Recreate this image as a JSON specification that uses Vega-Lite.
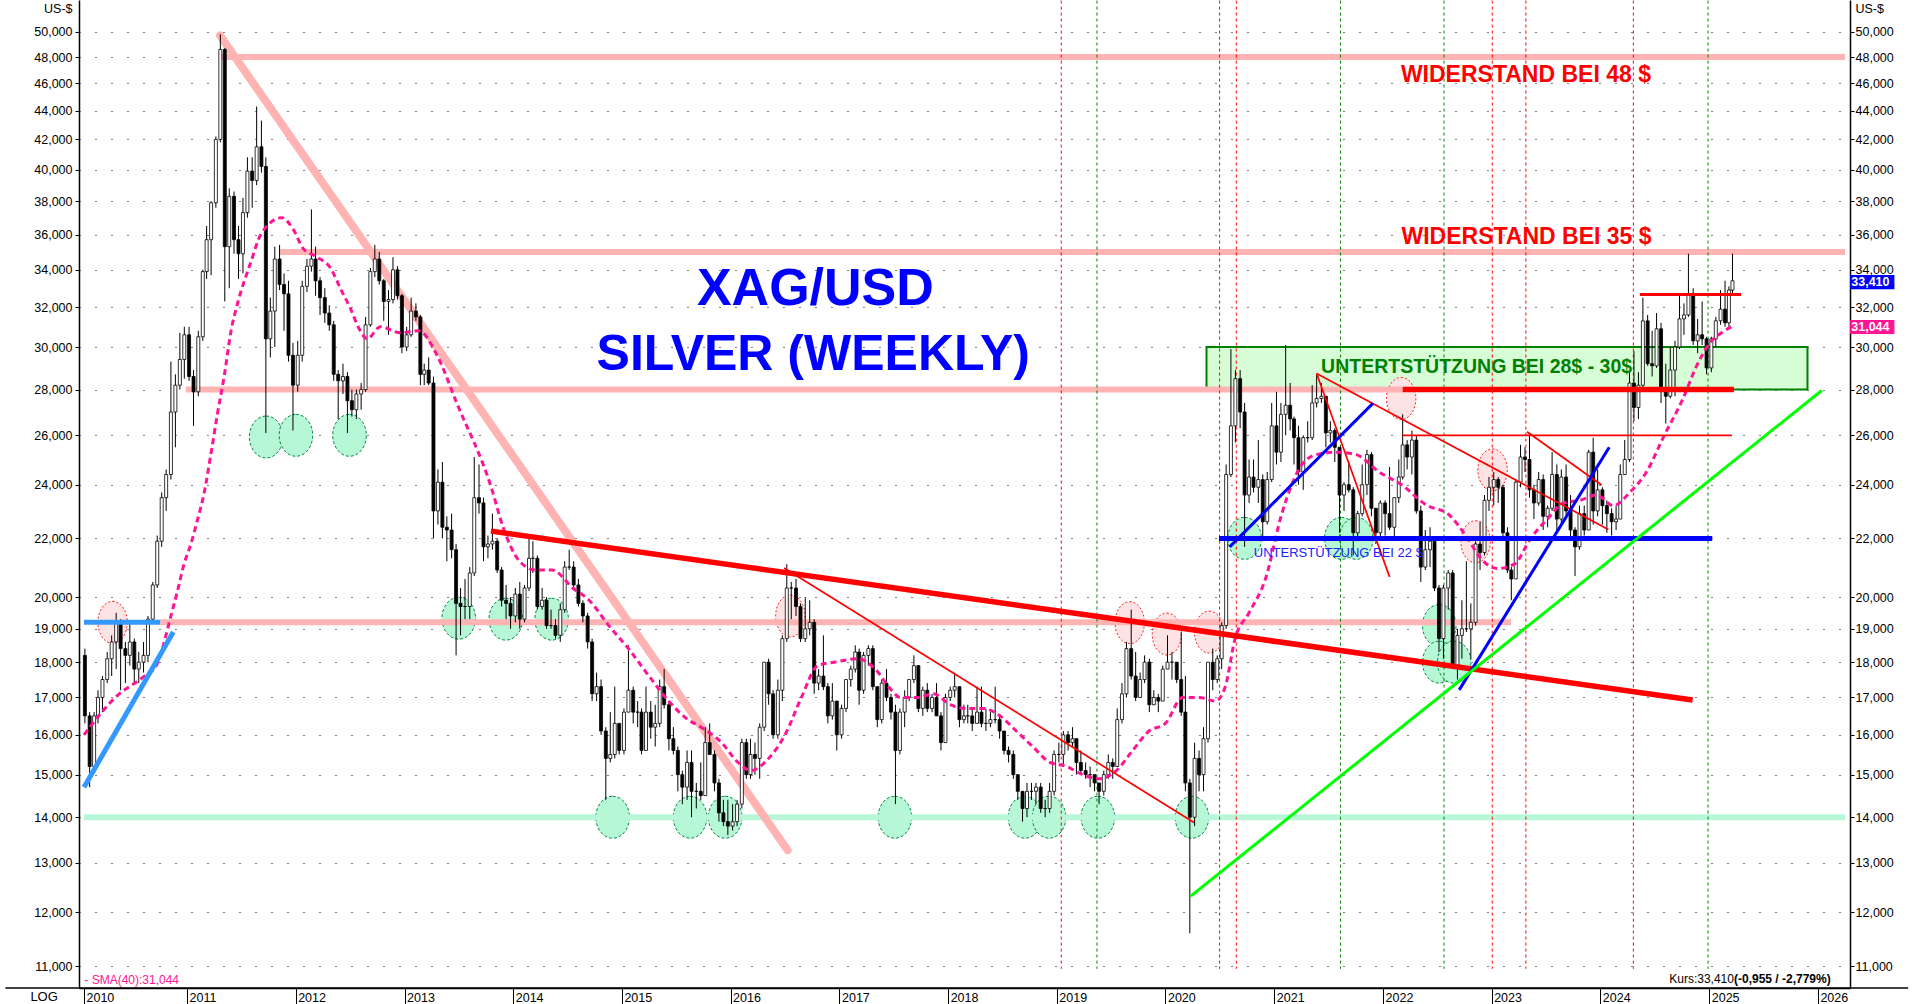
{
"$schema":"https://vega.github.io/schema/vega-lite/v6.json",
"width":1771,"height":988,
"autosize":{"type":"none"},
"padding":{"left":79,"top":0,"right":63,"bottom":16},
"background":"white",
"config":{"view":{"stroke":null},"font":"Liberation Sans"},
"datasets":{
"candles":[
{"t":"2010-01-23","o":18.2,"h":18.4,"l":16.3,"c":16.5},
{"t":"2010-02-08","o":16.5,"h":16.6,"l":14.7,"c":15.2},
{"t":"2010-02-23","o":15.2,"h":16.6,"l":15.1,"c":16.5},
{"t":"2010-03-08","o":16.5,"h":17.2,"l":16.3,"c":17.0},
{"t":"2010-03-23","o":17.0,"h":17.6,"l":16.6,"c":17.5},
{"t":"2010-04-08","o":17.5,"h":18.3,"l":17.4,"c":18.1},
{"t":"2010-04-23","o":18.1,"h":18.8,"l":17.6,"c":18.6},
{"t":"2010-05-08","o":18.6,"h":19.5,"l":17.8,"c":19.2},
{"t":"2010-05-23","o":19.2,"h":19.3,"l":17.2,"c":18.4},
{"t":"2010-06-08","o":18.4,"h":18.6,"l":17.4,"c":18.2},
{"t":"2010-06-23","o":18.2,"h":19.2,"l":17.9,"c":18.6},
{"t":"2010-07-08","o":18.6,"h":18.7,"l":17.4,"c":17.8},
{"t":"2010-07-23","o":17.8,"h":18.3,"l":17.4,"c":18.0},
{"t":"2010-08-08","o":18.0,"h":18.6,"l":17.7,"c":18.2},
{"t":"2010-08-23","o":18.2,"h":19.4,"l":18.0,"c":19.3},
{"t":"2010-09-08","o":19.3,"h":20.5,"l":19.2,"c":20.4},
{"t":"2010-09-23","o":20.4,"h":22.1,"l":20.3,"c":21.9},
{"t":"2010-10-08","o":21.9,"h":23.7,"l":21.7,"c":23.5},
{"t":"2010-10-23","o":23.5,"h":24.6,"l":23.0,"c":24.4},
{"t":"2010-11-08","o":24.4,"h":29.3,"l":24.2,"c":27.0},
{"t":"2010-11-23","o":27.0,"h":28.7,"l":25.5,"c":28.2},
{"t":"2010-12-08","o":28.2,"h":30.7,"l":28.0,"c":29.4},
{"t":"2010-12-23","o":29.4,"h":31.0,"l":28.5,"c":30.6},
{"t":"2011-01-08","o":30.6,"h":31.0,"l":28.4,"c":28.6},
{"t":"2011-01-23","o":28.6,"h":28.9,"l":26.4,"c":27.9},
{"t":"2011-02-08","o":27.9,"h":30.8,"l":27.7,"c":30.5},
{"t":"2011-02-23","o":30.5,"h":34.0,"l":30.3,"c":33.9},
{"t":"2011-03-08","o":33.9,"h":36.5,"l":33.5,"c":35.7},
{"t":"2011-03-23","o":35.7,"h":38.0,"l":33.7,"c":37.9},
{"t":"2011-04-08","o":37.9,"h":42.2,"l":37.6,"c":42.0},
{"t":"2011-04-23","o":42.0,"h":49.8,"l":41.8,"c":48.6},
{"t":"2011-05-08","o":48.6,"h":48.7,"l":32.3,"c":35.3},
{"t":"2011-05-23","o":35.3,"h":38.8,"l":33.0,"c":38.3},
{"t":"2011-06-08","o":38.3,"h":38.6,"l":34.9,"c":35.7},
{"t":"2011-06-23","o":35.7,"h":36.5,"l":33.5,"c":34.9},
{"t":"2011-07-08","o":34.9,"h":38.2,"l":33.8,"c":37.3},
{"t":"2011-07-23","o":37.3,"h":40.8,"l":37.0,"c":39.9},
{"t":"2011-08-08","o":39.9,"h":40.8,"l":37.6,"c":39.3},
{"t":"2011-08-23","o":39.3,"h":44.3,"l":39.0,"c":41.5},
{"t":"2011-09-08","o":41.5,"h":43.3,"l":39.8,"c":40.2},
{"t":"2011-09-23","o":40.2,"h":40.8,"l":26.1,"c":30.4},
{"t":"2011-10-08","o":30.4,"h":32.5,"l":29.5,"c":31.8},
{"t":"2011-10-23","o":31.8,"h":35.3,"l":30.0,"c":34.6},
{"t":"2011-11-08","o":34.6,"h":35.4,"l":32.9,"c":33.2},
{"t":"2011-11-23","o":33.2,"h":33.8,"l":30.8,"c":32.7},
{"t":"2011-12-08","o":32.7,"h":33.4,"l":29.3,"c":29.6},
{"t":"2011-12-23","o":29.6,"h":30.2,"l":26.2,"c":28.2},
{"t":"2012-01-08","o":28.2,"h":30.3,"l":27.9,"c":29.6},
{"t":"2012-01-23","o":29.6,"h":33.4,"l":29.3,"c":33.1},
{"t":"2012-02-08","o":33.1,"h":34.6,"l":32.8,"c":34.2},
{"t":"2012-02-23","o":34.2,"h":37.5,"l":33.9,"c":34.6},
{"t":"2012-03-08","o":34.6,"h":35.3,"l":32.6,"c":33.4},
{"t":"2012-03-23","o":33.4,"h":33.6,"l":31.6,"c":32.5},
{"t":"2012-04-08","o":32.5,"h":33.0,"l":31.2,"c":31.7},
{"t":"2012-04-23","o":31.7,"h":32.1,"l":30.8,"c":31.1},
{"t":"2012-05-08","o":31.1,"h":31.3,"l":28.4,"c":28.7},
{"t":"2012-05-23","o":28.7,"h":28.9,"l":26.7,"c":28.4},
{"t":"2012-06-08","o":28.4,"h":29.2,"l":27.8,"c":28.6},
{"t":"2012-06-23","o":28.6,"h":28.8,"l":26.1,"c":27.5},
{"t":"2012-07-08","o":27.5,"h":28.0,"l":26.8,"c":27.1},
{"t":"2012-07-23","o":27.1,"h":28.0,"l":26.7,"c":27.8},
{"t":"2012-08-08","o":27.8,"h":28.3,"l":27.1,"c":28.0},
{"t":"2012-08-23","o":28.0,"h":31.5,"l":27.9,"c":31.1},
{"t":"2012-09-08","o":31.1,"h":34.1,"l":31.0,"c":33.9},
{"t":"2012-09-23","o":33.9,"h":35.4,"l":33.6,"c":34.6},
{"t":"2012-10-08","o":34.6,"h":35.0,"l":33.2,"c":33.4},
{"t":"2012-10-23","o":33.4,"h":33.5,"l":31.3,"c":32.3},
{"t":"2012-11-08","o":32.3,"h":32.9,"l":30.6,"c":32.4},
{"t":"2012-11-23","o":32.4,"h":34.7,"l":32.2,"c":34.0},
{"t":"2012-12-08","o":34.0,"h":34.2,"l":32.4,"c":32.6},
{"t":"2012-12-23","o":32.6,"h":32.7,"l":29.7,"c":30.0},
{"t":"2013-01-08","o":30.0,"h":31.0,"l":29.8,"c":30.6},
{"t":"2013-01-23","o":30.6,"h":32.5,"l":30.5,"c":31.8},
{"t":"2013-02-08","o":31.8,"h":32.2,"l":31.3,"c":31.5},
{"t":"2013-02-23","o":31.5,"h":31.6,"l":28.2,"c":28.7},
{"t":"2013-03-08","o":28.7,"h":29.2,"l":28.2,"c":28.9},
{"t":"2013-03-23","o":28.9,"h":29.5,"l":28.2,"c":28.3},
{"t":"2013-04-08","o":28.3,"h":28.6,"l":22.0,"c":23.0},
{"t":"2013-04-23","o":23.0,"h":24.6,"l":22.5,"c":24.1},
{"t":"2013-05-08","o":24.1,"h":24.9,"l":22.0,"c":22.4},
{"t":"2013-05-23","o":22.4,"h":22.8,"l":21.2,"c":22.3},
{"t":"2013-06-08","o":22.3,"h":22.9,"l":21.3,"c":21.6},
{"t":"2013-06-23","o":21.6,"h":21.8,"l":18.2,"c":19.8},
{"t":"2013-07-08","o":19.8,"h":20.3,"l":18.8,"c":19.7},
{"t":"2013-07-23","o":19.7,"h":20.6,"l":19.3,"c":19.7},
{"t":"2013-08-08","o":19.7,"h":21.0,"l":19.3,"c":20.8},
{"t":"2013-08-23","o":20.8,"h":25.1,"l":20.7,"c":23.5},
{"t":"2013-09-08","o":23.5,"h":24.8,"l":22.9,"c":23.3},
{"t":"2013-09-23","o":23.3,"h":23.5,"l":21.2,"c":21.7},
{"t":"2013-10-08","o":21.7,"h":22.1,"l":21.3,"c":21.8},
{"t":"2013-10-23","o":21.8,"h":22.9,"l":21.6,"c":21.9},
{"t":"2013-11-08","o":21.9,"h":22.0,"l":20.8,"c":20.9},
{"t":"2013-11-23","o":20.9,"h":21.0,"l":19.7,"c":19.9},
{"t":"2013-12-08","o":19.9,"h":20.4,"l":19.3,"c":19.8},
{"t":"2013-12-23","o":19.8,"h":20.0,"l":19.0,"c":19.4},
{"t":"2014-01-08","o":19.4,"h":20.3,"l":19.2,"c":20.1},
{"t":"2014-01-23","o":20.1,"h":20.5,"l":19.0,"c":19.3},
{"t":"2014-02-08","o":19.3,"h":20.4,"l":19.2,"c":20.3},
{"t":"2014-02-23","o":20.3,"h":22.0,"l":20.2,"c":21.3},
{"t":"2014-03-08","o":21.3,"h":21.9,"l":20.8,"c":21.3},
{"t":"2014-03-23","o":21.3,"h":21.4,"l":19.6,"c":19.7},
{"t":"2014-04-08","o":19.7,"h":20.3,"l":19.6,"c":19.9},
{"t":"2014-04-23","o":19.9,"h":20.0,"l":19.0,"c":19.1},
{"t":"2014-05-08","o":19.1,"h":19.6,"l":19.0,"c":19.1},
{"t":"2014-05-23","o":19.1,"h":19.3,"l":18.7,"c":18.8},
{"t":"2014-06-08","o":18.8,"h":19.8,"l":18.6,"c":19.6},
{"t":"2014-06-23","o":19.6,"h":21.2,"l":19.5,"c":21.0},
{"t":"2014-07-08","o":21.0,"h":21.6,"l":20.9,"c":21.0},
{"t":"2014-07-23","o":21.0,"h":21.2,"l":20.3,"c":20.4},
{"t":"2014-08-08","o":20.4,"h":20.6,"l":19.7,"c":19.8},
{"t":"2014-08-23","o":19.8,"h":19.9,"l":19.2,"c":19.4},
{"t":"2014-09-08","o":19.4,"h":19.5,"l":18.4,"c":18.6},
{"t":"2014-09-23","o":18.6,"h":18.7,"l":16.9,"c":17.1},
{"t":"2014-10-08","o":17.1,"h":17.7,"l":16.9,"c":17.3},
{"t":"2014-10-23","o":17.3,"h":17.5,"l":16.0,"c":16.1},
{"t":"2014-11-08","o":16.1,"h":16.2,"l":14.4,"c":15.4},
{"t":"2014-11-23","o":15.4,"h":16.6,"l":15.3,"c":15.5},
{"t":"2014-12-08","o":15.5,"h":17.3,"l":15.4,"c":16.3},
{"t":"2014-12-23","o":16.3,"h":16.3,"l":15.5,"c":15.6},
{"t":"2015-01-08","o":15.6,"h":16.7,"l":15.5,"c":16.6},
{"t":"2015-01-23","o":16.6,"h":18.5,"l":16.6,"c":17.2},
{"t":"2015-02-08","o":17.2,"h":17.3,"l":16.3,"c":16.6},
{"t":"2015-02-23","o":16.6,"h":16.9,"l":16.2,"c":16.6},
{"t":"2015-03-08","o":16.6,"h":16.7,"l":15.5,"c":15.6},
{"t":"2015-03-23","o":15.6,"h":17.3,"l":15.6,"c":16.6},
{"t":"2015-04-08","o":16.6,"h":16.9,"l":15.9,"c":16.2},
{"t":"2015-04-23","o":16.2,"h":16.8,"l":15.7,"c":16.3},
{"t":"2015-05-08","o":16.3,"h":17.5,"l":16.2,"c":17.3},
{"t":"2015-05-23","o":17.3,"h":17.8,"l":16.7,"c":16.8},
{"t":"2015-06-08","o":16.8,"h":16.9,"l":15.6,"c":15.9},
{"t":"2015-06-23","o":15.9,"h":16.2,"l":15.5,"c":15.6},
{"t":"2015-07-08","o":15.6,"h":15.7,"l":14.6,"c":15.0},
{"t":"2015-07-23","o":15.0,"h":15.1,"l":14.3,"c":14.7},
{"t":"2015-08-08","o":14.7,"h":15.6,"l":14.4,"c":15.3},
{"t":"2015-08-23","o":15.3,"h":15.6,"l":14.0,"c":14.6},
{"t":"2015-09-08","o":14.6,"h":14.8,"l":14.2,"c":14.6},
{"t":"2015-09-23","o":14.6,"h":15.3,"l":14.4,"c":14.5},
{"t":"2015-10-08","o":14.5,"h":16.2,"l":14.5,"c":15.8},
{"t":"2015-10-23","o":15.8,"h":16.3,"l":15.5,"c":15.5},
{"t":"2015-11-08","o":15.5,"h":15.6,"l":14.6,"c":14.8},
{"t":"2015-11-23","o":14.8,"h":14.9,"l":13.9,"c":14.1},
{"t":"2015-12-08","o":14.1,"h":14.4,"l":13.8,"c":13.9},
{"t":"2015-12-23","o":13.9,"h":14.4,"l":13.6,"c":13.8},
{"t":"2016-01-08","o":13.8,"h":14.3,"l":13.7,"c":13.9},
{"t":"2016-01-23","o":13.9,"h":14.4,"l":13.8,"c":14.3},
{"t":"2016-02-08","o":14.3,"h":15.9,"l":14.2,"c":15.8},
{"t":"2016-02-23","o":15.8,"h":15.9,"l":14.9,"c":15.0},
{"t":"2016-03-08","o":15.0,"h":15.9,"l":14.9,"c":15.5},
{"t":"2016-03-23","o":15.5,"h":15.8,"l":15.0,"c":15.4},
{"t":"2016-04-08","o":15.4,"h":16.3,"l":14.9,"c":16.2},
{"t":"2016-04-23","o":16.2,"h":18.0,"l":16.1,"c":18.0},
{"t":"2016-05-08","o":18.0,"h":18.1,"l":16.8,"c":17.1},
{"t":"2016-05-23","o":17.1,"h":17.2,"l":15.9,"c":16.0},
{"t":"2016-06-08","o":16.0,"h":17.5,"l":15.9,"c":17.2},
{"t":"2016-06-23","o":17.2,"h":18.8,"l":16.9,"c":18.7},
{"t":"2016-07-08","o":18.7,"h":21.1,"l":18.6,"c":20.3},
{"t":"2016-07-23","o":20.3,"h":20.5,"l":19.3,"c":20.3},
{"t":"2016-08-08","o":20.3,"h":20.6,"l":19.4,"c":19.7},
{"t":"2016-08-23","o":19.7,"h":19.8,"l":18.6,"c":18.7},
{"t":"2016-09-08","o":18.7,"h":20.0,"l":18.6,"c":19.0},
{"t":"2016-09-23","o":19.0,"h":19.9,"l":18.8,"c":19.2},
{"t":"2016-10-08","o":19.2,"h":19.3,"l":17.1,"c":17.4},
{"t":"2016-10-23","o":17.4,"h":17.8,"l":17.2,"c":17.6},
{"t":"2016-11-08","o":17.6,"h":18.8,"l":17.2,"c":17.3},
{"t":"2016-11-23","o":17.3,"h":17.4,"l":16.3,"c":16.5},
{"t":"2016-12-08","o":16.5,"h":17.4,"l":16.4,"c":16.9},
{"t":"2016-12-23","o":16.9,"h":16.9,"l":15.6,"c":16.0},
{"t":"2017-01-08","o":16.0,"h":16.8,"l":15.9,"c":16.7},
{"t":"2017-01-23","o":16.7,"h":17.5,"l":16.6,"c":17.5},
{"t":"2017-02-08","o":17.5,"h":17.9,"l":17.3,"c":17.8},
{"t":"2017-02-23","o":17.8,"h":18.5,"l":17.7,"c":18.3},
{"t":"2017-03-08","o":18.3,"h":18.4,"l":16.8,"c":17.2},
{"t":"2017-03-23","o":17.2,"h":18.3,"l":17.1,"c":18.2},
{"t":"2017-04-08","o":18.2,"h":18.5,"l":17.9,"c":18.4},
{"t":"2017-04-23","o":18.4,"h":18.5,"l":17.2,"c":17.3},
{"t":"2017-05-08","o":17.3,"h":17.3,"l":16.2,"c":16.4},
{"t":"2017-05-23","o":16.4,"h":17.5,"l":16.3,"c":17.4},
{"t":"2017-06-08","o":17.4,"h":17.8,"l":16.9,"c":17.0},
{"t":"2017-06-23","o":17.0,"h":17.1,"l":16.4,"c":16.6},
{"t":"2017-07-08","o":16.6,"h":16.8,"l":14.3,"c":15.6},
{"t":"2017-07-23","o":15.6,"h":16.7,"l":15.5,"c":16.6},
{"t":"2017-08-08","o":16.6,"h":17.2,"l":16.2,"c":17.0},
{"t":"2017-08-23","o":17.0,"h":17.5,"l":16.9,"c":17.5},
{"t":"2017-09-08","o":17.5,"h":18.2,"l":17.4,"c":17.9},
{"t":"2017-09-23","o":17.9,"h":17.9,"l":16.6,"c":16.7},
{"t":"2017-10-08","o":16.7,"h":17.3,"l":16.5,"c":17.2},
{"t":"2017-10-23","o":17.2,"h":17.4,"l":16.6,"c":16.7},
{"t":"2017-11-08","o":16.7,"h":17.1,"l":16.6,"c":17.0},
{"t":"2017-11-23","o":17.0,"h":17.4,"l":16.5,"c":16.5},
{"t":"2017-12-08","o":16.5,"h":16.6,"l":15.6,"c":15.8},
{"t":"2017-12-23","o":15.8,"h":17.1,"l":15.8,"c":17.0},
{"t":"2018-01-08","o":17.0,"h":17.3,"l":16.9,"c":17.2},
{"t":"2018-01-23","o":17.2,"h":17.7,"l":17.0,"c":17.3},
{"t":"2018-02-08","o":17.3,"h":17.3,"l":16.2,"c":16.4},
{"t":"2018-02-23","o":16.4,"h":16.8,"l":16.3,"c":16.5},
{"t":"2018-03-08","o":16.5,"h":16.8,"l":16.3,"c":16.5},
{"t":"2018-03-23","o":16.5,"h":16.7,"l":16.1,"c":16.3},
{"t":"2018-04-08","o":16.3,"h":17.3,"l":16.3,"c":16.6},
{"t":"2018-04-23","o":16.6,"h":17.3,"l":16.2,"c":16.3},
{"t":"2018-05-08","o":16.3,"h":16.7,"l":16.1,"c":16.3},
{"t":"2018-05-23","o":16.3,"h":16.6,"l":16.2,"c":16.4},
{"t":"2018-06-08","o":16.4,"h":17.3,"l":16.3,"c":16.4},
{"t":"2018-06-23","o":16.4,"h":16.5,"l":15.9,"c":16.1},
{"t":"2018-07-08","o":16.1,"h":16.1,"l":15.5,"c":15.6},
{"t":"2018-07-23","o":15.6,"h":15.7,"l":15.3,"c":15.5},
{"t":"2018-08-08","o":15.5,"h":15.6,"l":14.9,"c":15.0},
{"t":"2018-08-23","o":15.0,"h":15.0,"l":14.4,"c":14.6},
{"t":"2018-09-08","o":14.6,"h":14.6,"l":13.9,"c":14.2},
{"t":"2018-09-23","o":14.2,"h":14.8,"l":14.0,"c":14.6},
{"t":"2018-10-08","o":14.6,"h":14.8,"l":14.4,"c":14.6},
{"t":"2018-10-23","o":14.6,"h":14.8,"l":14.3,"c":14.7},
{"t":"2018-11-08","o":14.7,"h":14.8,"l":14.1,"c":14.2},
{"t":"2018-11-23","o":14.2,"h":14.4,"l":14.0,"c":14.2},
{"t":"2018-12-08","o":14.2,"h":14.8,"l":14.1,"c":14.6},
{"t":"2018-12-23","o":14.6,"h":15.6,"l":14.5,"c":15.5},
{"t":"2019-01-08","o":15.5,"h":15.8,"l":15.3,"c":15.5},
{"t":"2019-01-23","o":15.5,"h":16.1,"l":15.2,"c":16.0},
{"t":"2019-02-08","o":16.0,"h":16.1,"l":15.6,"c":15.8},
{"t":"2019-02-23","o":15.8,"h":16.2,"l":15.7,"c":15.9},
{"t":"2019-03-08","o":15.9,"h":15.9,"l":15.0,"c":15.3},
{"t":"2019-03-23","o":15.3,"h":15.6,"l":15.0,"c":15.1},
{"t":"2019-04-08","o":15.1,"h":15.3,"l":14.9,"c":15.0},
{"t":"2019-04-23","o":15.0,"h":15.2,"l":14.7,"c":15.0},
{"t":"2019-05-08","o":15.0,"h":15.0,"l":14.6,"c":14.8},
{"t":"2019-05-23","o":14.8,"h":14.8,"l":14.3,"c":14.6},
{"t":"2019-06-08","o":14.6,"h":15.1,"l":14.5,"c":15.0},
{"t":"2019-06-23","o":15.0,"h":15.5,"l":14.9,"c":15.3},
{"t":"2019-07-08","o":15.3,"h":15.4,"l":14.9,"c":15.2},
{"t":"2019-07-23","o":15.2,"h":16.7,"l":15.2,"c":16.4},
{"t":"2019-08-08","o":16.4,"h":17.4,"l":16.3,"c":17.1},
{"t":"2019-08-23","o":17.1,"h":18.6,"l":17.0,"c":18.4},
{"t":"2019-09-08","o":18.4,"h":19.6,"l":17.5,"c":17.6},
{"t":"2019-09-23","o":17.6,"h":18.3,"l":16.9,"c":17.0},
{"t":"2019-10-08","o":17.0,"h":17.7,"l":17.0,"c":17.5},
{"t":"2019-10-23","o":17.5,"h":18.2,"l":17.4,"c":18.0},
{"t":"2019-11-08","o":18.0,"h":18.1,"l":16.6,"c":16.8},
{"t":"2019-11-23","o":16.8,"h":17.2,"l":16.8,"c":17.0},
{"t":"2019-12-08","o":17.0,"h":17.1,"l":16.6,"c":16.9},
{"t":"2019-12-23","o":16.9,"h":17.9,"l":16.9,"c":17.8},
{"t":"2020-01-08","o":17.8,"h":18.8,"l":17.8,"c":18.0},
{"t":"2020-01-23","o":18.0,"h":18.3,"l":17.5,"c":18.0},
{"t":"2020-02-08","o":18.0,"h":18.0,"l":17.4,"c":17.5},
{"t":"2020-02-23","o":17.5,"h":18.9,"l":16.5,"c":16.6},
{"t":"2020-03-08","o":16.6,"h":17.6,"l":14.6,"c":14.8},
{"t":"2020-03-23","o":14.8,"h":14.9,"l":11.6,"c":14.0},
{"t":"2020-04-08","o":14.0,"h":15.8,"l":13.8,"c":15.4},
{"t":"2020-04-23","o":15.4,"h":15.6,"l":14.6,"c":15.0},
{"t":"2020-05-08","o":15.0,"h":16.2,"l":14.6,"c":15.9},
{"t":"2020-05-23","o":15.9,"h":18.0,"l":15.8,"c":18.0},
{"t":"2020-06-08","o":18.0,"h":18.4,"l":17.2,"c":17.5},
{"t":"2020-06-23","o":17.5,"h":18.2,"l":17.4,"c":18.1},
{"t":"2020-07-08","o":18.1,"h":19.2,"l":17.8,"c":19.1},
{"t":"2020-07-23","o":19.1,"h":24.8,"l":19.0,"c":24.4},
{"t":"2020-08-08","o":24.4,"h":29.9,"l":24.3,"c":26.4},
{"t":"2020-08-23","o":26.4,"h":28.9,"l":25.7,"c":28.5},
{"t":"2020-09-08","o":28.5,"h":28.9,"l":26.3,"c":27.0},
{"t":"2020-09-23","o":27.0,"h":27.4,"l":21.7,"c":23.6},
{"t":"2020-10-08","o":23.6,"h":25.0,"l":23.3,"c":24.3},
{"t":"2020-10-23","o":24.3,"h":25.0,"l":23.7,"c":23.9},
{"t":"2020-11-08","o":23.9,"h":25.8,"l":23.3,"c":24.2},
{"t":"2020-11-23","o":24.2,"h":24.4,"l":21.9,"c":22.6},
{"t":"2020-12-08","o":22.6,"h":24.5,"l":22.5,"c":24.2},
{"t":"2020-12-23","o":24.2,"h":27.4,"l":24.1,"c":26.4},
{"t":"2021-01-08","o":26.4,"h":27.9,"l":24.8,"c":25.3},
{"t":"2021-01-23","o":25.3,"h":27.4,"l":24.9,"c":26.9},
{"t":"2021-02-08","o":26.9,"h":30.1,"l":26.0,"c":27.3},
{"t":"2021-02-23","o":27.3,"h":28.3,"l":26.2,"c":26.7},
{"t":"2021-03-08","o":26.7,"h":26.8,"l":24.8,"c":25.9},
{"t":"2021-03-23","o":25.9,"h":26.4,"l":24.0,"c":24.5},
{"t":"2021-04-08","o":24.5,"h":26.0,"l":23.8,"c":25.9},
{"t":"2021-04-23","o":25.9,"h":26.6,"l":25.7,"c":25.9},
{"t":"2021-05-08","o":25.9,"h":28.2,"l":25.8,"c":27.4},
{"t":"2021-05-23","o":27.4,"h":28.7,"l":27.2,"c":27.6},
{"t":"2021-06-08","o":27.6,"h":28.3,"l":27.4,"c":27.7},
{"t":"2021-06-23","o":27.7,"h":27.7,"l":25.5,"c":26.1},
{"t":"2021-07-08","o":26.1,"h":26.6,"l":25.7,"c":26.2},
{"t":"2021-07-23","o":26.2,"h":26.3,"l":24.9,"c":25.5},
{"t":"2021-08-08","o":25.5,"h":25.5,"l":22.2,"c":23.6},
{"t":"2021-08-23","o":23.6,"h":24.1,"l":23.0,"c":24.0},
{"t":"2021-09-08","o":24.0,"h":24.9,"l":23.7,"c":23.8},
{"t":"2021-09-23","o":23.8,"h":23.9,"l":21.4,"c":22.2},
{"t":"2021-10-08","o":22.2,"h":23.0,"l":21.9,"c":22.9},
{"t":"2021-10-23","o":22.9,"h":24.8,"l":22.8,"c":24.0},
{"t":"2021-11-08","o":24.0,"h":25.4,"l":23.6,"c":25.2},
{"t":"2021-11-23","o":25.2,"h":25.3,"l":22.8,"c":23.1},
{"t":"2021-12-08","o":23.1,"h":23.1,"l":21.8,"c":22.2},
{"t":"2021-12-23","o":22.2,"h":23.4,"l":22.0,"c":23.3},
{"t":"2022-01-08","o":23.3,"h":23.4,"l":22.1,"c":22.9},
{"t":"2022-01-23","o":22.9,"h":24.7,"l":22.3,"c":22.4},
{"t":"2022-02-08","o":22.4,"h":23.5,"l":22.0,"c":23.5},
{"t":"2022-02-23","o":23.5,"h":25.0,"l":23.3,"c":24.3},
{"t":"2022-03-08","o":24.3,"h":26.9,"l":24.2,"c":25.6},
{"t":"2022-03-23","o":25.6,"h":25.8,"l":24.6,"c":25.1},
{"t":"2022-04-08","o":25.1,"h":26.2,"l":24.4,"c":25.8},
{"t":"2022-04-23","o":25.8,"h":26.0,"l":22.9,"c":23.0},
{"t":"2022-05-08","o":23.0,"h":23.2,"l":20.5,"c":21.0},
{"t":"2022-05-23","o":21.0,"h":22.3,"l":20.9,"c":21.6},
{"t":"2022-06-08","o":21.6,"h":22.4,"l":21.0,"c":21.9},
{"t":"2022-06-23","o":21.9,"h":22.0,"l":20.2,"c":20.3},
{"t":"2022-07-08","o":20.3,"h":20.4,"l":18.3,"c":18.7},
{"t":"2022-07-23","o":18.7,"h":20.4,"l":18.1,"c":20.3},
{"t":"2022-08-08","o":20.3,"h":20.9,"l":19.6,"c":20.8},
{"t":"2022-08-23","o":20.8,"h":20.9,"l":17.8,"c":17.9},
{"t":"2022-09-08","o":17.9,"h":19.0,"l":17.5,"c":18.8},
{"t":"2022-09-23","o":18.8,"h":19.9,"l":18.1,"c":19.0},
{"t":"2022-10-08","o":19.0,"h":21.2,"l":18.9,"c":19.0},
{"t":"2022-10-23","o":19.0,"h":19.8,"l":18.1,"c":19.2},
{"t":"2022-11-08","o":19.2,"h":21.9,"l":19.1,"c":21.8},
{"t":"2022-11-23","o":21.8,"h":22.6,"l":20.9,"c":21.5},
{"t":"2022-12-08","o":21.5,"h":23.6,"l":21.4,"c":23.4},
{"t":"2022-12-23","o":23.4,"h":24.3,"l":23.0,"c":23.9},
{"t":"2023-01-08","o":23.9,"h":24.5,"l":23.2,"c":24.2},
{"t":"2023-01-23","o":24.2,"h":24.3,"l":23.3,"c":23.9},
{"t":"2023-02-08","o":23.9,"h":24.0,"l":21.9,"c":22.2},
{"t":"2023-02-23","o":22.2,"h":22.4,"l":20.8,"c":20.9},
{"t":"2023-03-08","o":20.9,"h":21.0,"l":19.9,"c":20.6},
{"t":"2023-03-23","o":20.6,"h":24.2,"l":20.6,"c":24.1},
{"t":"2023-04-08","o":24.1,"h":25.6,"l":23.9,"c":25.1},
{"t":"2023-04-23","o":25.1,"h":25.5,"l":24.5,"c":25.0},
{"t":"2023-05-08","o":25.0,"h":26.1,"l":23.5,"c":23.8},
{"t":"2023-05-23","o":23.8,"h":24.0,"l":22.7,"c":23.3},
{"t":"2023-06-08","o":23.3,"h":24.5,"l":23.2,"c":24.2},
{"t":"2023-06-23","o":24.2,"h":24.4,"l":22.3,"c":22.8},
{"t":"2023-07-08","o":22.8,"h":23.2,"l":22.4,"c":23.1},
{"t":"2023-07-23","o":23.1,"h":25.3,"l":23.0,"c":24.4},
{"t":"2023-08-08","o":24.4,"h":24.8,"l":22.2,"c":22.7},
{"t":"2023-08-23","o":22.7,"h":24.6,"l":22.5,"c":24.3},
{"t":"2023-09-08","o":24.3,"h":24.8,"l":22.8,"c":23.0},
{"t":"2023-09-23","o":23.0,"h":23.6,"l":22.0,"c":22.3},
{"t":"2023-10-08","o":22.3,"h":22.4,"l":20.7,"c":21.7},
{"t":"2023-10-23","o":21.7,"h":23.2,"l":21.6,"c":22.9},
{"t":"2023-11-08","o":22.9,"h":23.2,"l":22.1,"c":22.3},
{"t":"2023-11-23","o":22.3,"h":25.4,"l":22.3,"c":25.3},
{"t":"2023-12-08","o":25.3,"h":25.9,"l":22.5,"c":23.0},
{"t":"2023-12-23","o":23.0,"h":24.6,"l":22.8,"c":23.8},
{"t":"2024-01-08","o":23.8,"h":23.9,"l":22.5,"c":23.2},
{"t":"2024-01-23","o":23.2,"h":23.4,"l":22.2,"c":22.9},
{"t":"2024-02-08","o":22.9,"h":23.1,"l":22.1,"c":22.6},
{"t":"2024-02-23","o":22.6,"h":23.2,"l":22.3,"c":22.7},
{"t":"2024-03-08","o":22.7,"h":24.8,"l":22.7,"c":24.4},
{"t":"2024-03-23","o":24.4,"h":25.8,"l":24.4,"c":25.0},
{"t":"2024-04-08","o":25.0,"h":28.8,"l":24.9,"c":28.3},
{"t":"2024-04-23","o":28.3,"h":29.8,"l":26.6,"c":27.2},
{"t":"2024-05-08","o":27.2,"h":28.8,"l":26.7,"c":28.2},
{"t":"2024-05-23","o":28.2,"h":32.5,"l":28.1,"c":31.3},
{"t":"2024-06-08","o":31.3,"h":31.6,"l":29.1,"c":29.2},
{"t":"2024-06-23","o":29.2,"h":30.8,"l":28.6,"c":29.1},
{"t":"2024-07-08","o":29.1,"h":31.7,"l":29.0,"c":30.9},
{"t":"2024-07-23","o":30.9,"h":31.2,"l":27.4,"c":28.0},
{"t":"2024-08-08","o":28.0,"h":29.2,"l":26.5,"c":27.7},
{"t":"2024-08-23","o":27.7,"h":30.0,"l":27.6,"c":28.9},
{"t":"2024-09-08","o":28.9,"h":30.3,"l":27.7,"c":30.0},
{"t":"2024-09-23","o":30.0,"h":32.7,"l":29.9,"c":31.4},
{"t":"2024-10-08","o":31.4,"h":32.2,"l":30.6,"c":31.6},
{"t":"2024-10-23","o":31.6,"h":34.9,"l":31.5,"c":32.7},
{"t":"2024-11-08","o":32.7,"h":33.0,"l":30.1,"c":30.3},
{"t":"2024-11-23","o":30.3,"h":31.4,"l":29.7,"c":30.6},
{"t":"2024-12-08","o":30.6,"h":32.3,"l":30.1,"c":30.4},
{"t":"2024-12-23","o":30.4,"h":30.5,"l":28.7,"c":29.0},
{"t":"2025-01-08","o":29.0,"h":30.5,"l":28.8,"c":30.4},
{"t":"2025-01-23","o":30.4,"h":31.5,"l":30.0,"c":31.3},
{"t":"2025-02-08","o":31.3,"h":32.9,"l":31.1,"c":31.9},
{"t":"2025-02-23","o":31.9,"h":33.4,"l":31.0,"c":31.2},
{"t":"2025-03-08","o":31.2,"h":33.1,"l":31.0,"c":32.9},
{"t":"2025-03-20","o":32.9,"h":34.9,"l":32.7,"c":33.4}
],
"sma":[
{"t":"2010-01-20","v":16.0},{"t":"2010-05-05","v":17.0},{"t":"2010-08-11","v":17.6},{"t":"2010-09-20","v":17.9},
{"t":"2010-11-08","v":19.4},{"t":"2010-11-30","v":20.2},{"t":"2010-12-22","v":21.1},{"t":"2011-01-14","v":21.8},
{"t":"2011-02-06","v":22.7},{"t":"2011-02-28","v":23.7},{"t":"2011-03-22","v":25.2},{"t":"2011-04-13","v":26.9},
{"t":"2011-05-07","v":28.7},{"t":"2011-05-29","v":30.8},{"t":"2011-06-20","v":32.2},{"t":"2011-08-03","v":34.4},
{"t":"2011-09-06","v":36.0},{"t":"2011-11-15","v":37.0},{"t":"2011-12-24","v":36.3},{"t":"2012-01-26","v":35.2},
{"t":"2012-03-14","v":34.7},{"t":"2012-04-27","v":34.1},{"t":"2012-05-30","v":33.0},{"t":"2012-07-01","v":32.0},
{"t":"2012-08-05","v":30.8},{"t":"2012-08-28","v":30.4},{"t":"2012-10-12","v":31.0},{"t":"2012-12-18","v":30.7},
{"t":"2013-02-17","v":30.8},{"t":"2013-04-20","v":29.6},{"t":"2013-06-25","v":27.4},{"t":"2013-10-19","v":23.9},
{"t":"2013-11-28","v":22.4},{"t":"2014-01-22","v":21.2},{"t":"2014-03-18","v":20.9},{"t":"2014-05-12","v":20.9},
{"t":"2014-07-20","v":20.3},{"t":"2014-09-13","v":19.9},{"t":"2014-11-18","v":19.1},{"t":"2015-01-23","v":18.4},
{"t":"2015-04-02","v":17.6},{"t":"2015-06-07","v":16.9},{"t":"2015-08-11","v":16.4},{"t":"2015-09-24","v":16.2},
{"t":"2015-12-02","v":15.8},{"t":"2016-01-26","v":15.3},{"t":"2016-03-10","v":15.1},{"t":"2016-05-08","v":15.4},
{"t":"2016-07-02","v":16.0},{"t":"2016-08-26","v":17.0},{"t":"2016-10-20","v":17.9},{"t":"2016-12-14","v":18.0},
{"t":"2017-03-05","v":18.1},{"t":"2017-05-01","v":17.8},{"t":"2017-06-25","v":17.2},{"t":"2017-07-24","v":17.0},
{"t":"2017-09-20","v":17.0},{"t":"2017-11-13","v":17.1},{"t":"2018-01-08","v":16.8},{"t":"2018-03-03","v":16.7},
{"t":"2018-04-30","v":16.7},{"t":"2018-06-24","v":16.5},{"t":"2018-08-18","v":16.1},{"t":"2018-10-12","v":15.7},
{"t":"2018-12-09","v":15.3},{"t":"2019-02-03","v":15.2},{"t":"2019-03-29","v":15.0},{"t":"2019-05-23","v":14.9},
{"t":"2019-07-20","v":15.1},{"t":"2019-09-13","v":15.6},{"t":"2019-11-07","v":16.1},{"t":"2020-01-01","v":16.3},
{"t":"2020-02-28","v":17.0},{"t":"2020-04-23","v":17.0},{"t":"2020-06-17","v":16.9},{"t":"2020-07-20","v":17.3},
{"t":"2020-08-22","v":18.7},{"t":"2020-10-08","v":19.5},{"t":"2020-12-02","v":20.6},{"t":"2021-01-26","v":22.9},
{"t":"2021-04-04","v":24.8},{"t":"2021-05-23","v":25.2},{"t":"2021-07-27","v":25.3},{"t":"2021-10-03","v":25.2},
{"t":"2021-12-19","v":24.5},{"t":"2022-03-04","v":24.0},{"t":"2022-05-30","v":23.2},{"t":"2022-08-06","v":22.9},
{"t":"2022-10-12","v":22.0},{"t":"2022-11-25","v":21.3},{"t":"2023-01-20","v":20.95},{"t":"2023-03-18","v":21.1},
{"t":"2023-05-12","v":22.0},{"t":"2023-07-07","v":22.7},{"t":"2023-08-31","v":23.3},{"t":"2023-10-25","v":23.4},
{"t":"2023-12-20","v":23.6},{"t":"2024-02-14","v":23.2},{"t":"2024-04-09","v":23.7},{"t":"2024-06-04","v":24.5},
{"t":"2024-08-03","v":26.0},{"t":"2024-10-05","v":27.6},{"t":"2024-11-18","v":29.05},{"t":"2025-01-03","v":30.2},
{"t":"2025-02-16","v":30.75},{"t":"2025-03-21","v":31.04}
]
},
"encoding":{
"x":{"field":"t","type":"temporal","scale":{"domain":[1263945600000,1775088000000]},
 "axis":{"orient":"bottom","title":null,"values":[1263945600000,1293840000000,1325376000000,1356998400000,1388534400000,1420070400000,1451606400000,1483228800000,1514764800000,1546300800000,1577836800000,1609459200000,1640995200000,1672531200000,1704067200000,1735689600000,1767225600000],
  "labelExpr":"utcFormat(datum.value, '%Y')","grid":false,"ticks":true,"tickSize":16,"tickColor":"#000000","tickWidth":1,"labelAlign":"left","labelOffset":2,"labelPadding":-13,"labelBaseline":"top","labelFontSize":12.5,"labelColor":"#000000","labelFont":"Liberation Sans","domain":true,"domainColor":"#000000","domainWidth":1.5,"labelOverlap":false,"labelBound":false,"labelFlush":false,"zindex":1}},
"y":{"field":"v","type":"quantitative","scale":{"type":"log","domain":[10.615,52.65],"nice":false},"axis":null}
},
"resolve":{"axis":{"y":"independent"}},
"layer":[
{"data":{"values":[{"t":"2020-05-18","t2":"2025-11-27","v":28,"v2":30}]},
 "mark":{"type":"rect","fill":"#d6fdd6","stroke":"#008000","strokeWidth":2},
 "encoding":{"x2":{"field":"t2"},"y2":{"field":"v2"}}},
{"data":{"values":[{"t":"2011-09-24","v":25.93},{"t":"2012-01-02","v":26},{"t":"2012-06-30","v":26},{"t":"2013-07-02","v":19.33},{"t":"2013-12-07","v":19.3},{"t":"2014-05-10","v":19.3},{"t":"2014-12-01","v":14},{"t":"2015-08-18","v":14},{"t":"2015-12-14","v":14},{"t":"2017-07-06","v":14},{"t":"2018-09-16","v":14},{"t":"2018-12-06","v":14},{"t":"2019-05-19","v":14},{"t":"2020-03-30","v":14},{"t":"2020-09-23","v":22},{"t":"2021-08-14","v":22},{"t":"2021-10-03","v":22},{"t":"2022-07-09","v":19.1},{"t":"2022-07-09","v":18.0},{"t":"2022-08-28","v":18.0}]},
 "mark":{"type":"point","filled":true,"shape":"M0,-1A0.8,1,0,1,1,0,1A0.8,1,0,1,1,0,-1Z","size":1764,"fill":"#b6f7d6","fillOpacity":1,"stroke":"#0a8a4a","strokeWidth":1,"strokeDash":[3,2],"strokeOpacity":1}},
{"data":{"values":[{"t":"2010-04-26","v":19.2},{"t":"2016-07-20","v":19.4},{"t":"2019-09-03","v":19.19},{"t":"2020-01-06","v":18.84},{"t":"2020-05-27","v":18.9},{"t":"2022-03-03","v":27.6},{"t":"2023-01-04","v":24.58},{"t":"2022-11-08","v":21.88}]},
 "mark":{"type":"point","filled":true,"shape":"M0,-1A0.7,1,0,1,1,0,1A0.7,1,0,1,1,0,-1Z","size":1764,"fill":"#fde3e3","fillOpacity":1,"stroke":"#ff2020","strokeWidth":1,"strokeDash":[2,2],"strokeOpacity":1}},
{"data":{"values":[{"s":"f","t":"2010-01-20","v":14},{"s":"f","t":"2026-04-02","v":14}]},
 "mark":{"type":"line","color":"#b8f8d8","strokeWidth":6,"clip":true},"encoding":{"detail":{"field":"s"}}},
{"data":{"values":[{"s":"a","t":"2011-04-22","v":48},{"s":"a","t":"2026-04-02","v":48},{"s":"b","t":"2011-11-08","v":35},{"s":"b","t":"2026-04-02","v":35},{"s":"c","t":"2010-12-28","v":28},{"s":"c","t":"2022-03-08","v":28},{"s":"d","t":"2010-10-03","v":19.2},{"s":"d","t":"2023-03-07","v":19.2}]},
 "mark":{"type":"line","color":"#ffb3b3","strokeWidth":6,"clip":true},"encoding":{"detail":{"field":"s"}}},
{"data":{"values":[{"s":"e","t":"2011-04-22","v":49.7},{"s":"e","t":"2016-07-11","v":13.27}]},
 "mark":{"type":"line","color":"#ffb3b3","strokeWidth":8,"strokeCap":"round","clip":true},"encoding":{"detail":{"field":"s"}}},
{"data":{"values":[{"t":"2019-01-16","v":52.6,"v2":10.95},{"t":"2020-07-01","v":52.6,"v2":10.95},{"t":"2020-08-26","v":52.6,"v2":10.95},{"t":"2023-01-03","v":52.6,"v2":10.95},{"t":"2023-04-26","v":52.6,"v2":10.95},{"t":"2024-04-21","v":52.6,"v2":10.95}]},
 "mark":{"type":"rule","color":"#ff0000","strokeWidth":1,"strokeDash":[3,3]},
 "encoding":{"y2":{"field":"v2"}}},
{"data":{"values":[{"t":"2019-05-16","v":52.6,"v2":10.95},{"t":"2021-08-11","v":52.6,"v2":10.95},{"t":"2022-07-25","v":52.6,"v2":10.95},{"t":"2024-12-28","v":52.6,"v2":10.95}]},
 "mark":{"type":"rule","color":"#008000","strokeWidth":1,"strokeDash":[3,3]},
 "encoding":{"y2":{"field":"v2"}}},
{"data":{"name":"candles"},
 "mark":{"type":"rule","color":"#000000","strokeWidth":1},
 "encoding":{
  "y":{"field":"l","type":"quantitative","scale":{"type":"log","domain":[10.615,52.65],"nice":false},
   "axis":{"orient":"left","values":[11,12,13,14,15,16,17,18,19,20,22,24,26,28,30,32,34,36,38,40,42,44,46,48,50],
    "labelExpr":"replace(format(datum.value,'.3f'),'.',',')","title":"US-$","titleAngle":0,"titleX":-7,"titleY":12,"titleAlign":"right","titleBaseline":"alphabetic","titleFontSize":12.5,"titleFontWeight":"normal","titleColor":"#000000","titleFont":"Liberation Sans",
    "labelFont":"Liberation Sans","labelFontSize":12.5,"labelColor":"#000000","tickSize":4,"tickColor":"#000000","labelPadding":3,"domainColor":"#000000","domainWidth":1.5,
    "grid":true,"gridColor":"#000000","gridDash":[1,15],"gridOpacity":1,"gridWidth":1,"labelOverlap":false,"labelBound":false,"labelFlush":false}},
  "y2":{"field":"h"}}},
{"data":{"name":"candles"},
 "mark":{"type":"bar","size":3,"stroke":"#000000","strokeWidth":0.8},
 "encoding":{
  "y":{"field":"o","type":"quantitative","scale":{"type":"log","domain":[10.615,52.65],"nice":false},
   "axis":{"orient":"right","values":[11,12,13,14,15,16,17,18,19,20,22,24,26,28,30,32,34,36,38,40,42,44,46,48,50],
    "labelExpr":"replace(format(datum.value,'.3f'),'.',',')","title":"US-$","titleAngle":0,"titleX":5,"titleY":12,"titleAlign":"left","titleBaseline":"alphabetic","titleFontSize":12.5,"titleFontWeight":"normal","titleColor":"#000000","titleFont":"Liberation Sans",
    "labelFont":"Liberation Sans","labelFontSize":12.5,"labelColor":"#000000","tickSize":4,"tickColor":"#000000","labelPadding":1,"domainColor":"#000000","domainWidth":1.5,
    "grid":false,"labelOverlap":false,"labelBound":false,"labelFlush":false}},
  "y2":{"field":"c"},
  "fill":{"condition":{"test":"datum.c >= datum.o","value":"#ffffff"},"value":"#000000"}}},
{"data":{"name":"sma"},
 "mark":{"type":"line","color":"#ff1493","strokeWidth":3,"strokeDash":[6,4],"interpolate":"monotone"}},
{"data":{"values":[{"s":"g","t":"2010-01-20","v":14.7},{"s":"g","t":"2010-11-16","v":18.9},{"s":"h","t":"2010-01-20","v":19.2},{"s":"h","t":"2010-10-03","v":19.2}]},
 "mark":{"type":"line","color":"#3399ff","strokeWidth":5,"clip":true},"encoding":{"detail":{"field":"s"}}},
{"data":{"values":[{"s":"i","t":"2013-10-18","v":22.26},{"s":"i","t":"2024-11-06","v":16.93},{"s":"j","t":"2022-03-08","v":28},{"s":"j","t":"2025-03-25","v":28}]},
 "mark":{"type":"line","color":"#ff0000","strokeWidth":5.5},"encoding":{"detail":{"field":"s"}}},
{"data":{"values":[{"s":"k","t":"2016-06-29","v":20.97},{"s":"k","t":"2020-04-06","v":13.88},{"s":"l","t":"2021-05-23","v":28.74},{"s":"l","t":"2024-01-28","v":22.32},{"s":"m","t":"2021-05-23","v":28.74},{"s":"m","t":"2022-01-23","v":20.67},{"s":"n","t":"2022-03-08","v":26},{"s":"n","t":"2025-03-18","v":26},{"s":"o","t":"2023-04-30","v":26.15},{"s":"o","t":"2024-01-05","v":23.99}]},
 "mark":{"type":"line","color":"#ff0000","strokeWidth":1.7},"encoding":{"detail":{"field":"s"}}},
{"data":{"values":[{"s":"p","t":"2024-05-13","v":32.67},{"s":"p","t":"2025-04-18","v":32.67}]},
 "mark":{"type":"line","color":"#ff0000","strokeWidth":3},"encoding":{"detail":{"field":"s"}}},
{"data":{"values":[{"s":"q","t":"2020-06-29","v":22},{"s":"q","t":"2025-01-11","v":22}]},
 "mark":{"type":"line","color":"#0000ff","strokeWidth":5},"encoding":{"detail":{"field":"s"}}},
{"data":{"values":[{"s":"r","t":"2020-08-04","v":21.7},{"s":"r","t":"2021-11-28","v":27.38},{"s":"u","t":"2022-09-14","v":17.21},{"s":"u","t":"2024-01-31","v":25.5}]},
 "mark":{"type":"line","color":"#0000ff","strokeWidth":3},"encoding":{"detail":{"field":"s"}}},
{"data":{"values":[{"s":"w","t":"2020-03-26","v":12.32},{"s":"w","t":"2026-01-14","v":27.96}]},
 "mark":{"type":"line","color":"#00ff00","strokeWidth":3},"encoding":{"detail":{"field":"s"}}},
{"data":{"values":[{"t":"2009-05-01","t2":"2026-10-31","v":10.615}]},
 "mark":{"type":"rule","color":"#000000","strokeWidth":1.5,"clip":false},
 "encoding":{"x2":{"field":"t2"}}},
{"data":{"values":[{"t":"2016-10-12","v":32.1}]},
 "mark":{"type":"text","text":"XAG/USD","font":"Liberation Sans","fontSize":52,"fontWeight":"bold","color":"#0000ff","align":"center","baseline":"alphabetic"}},
{"data":{"values":[{"t":"2016-10-05","v":28.9}]},
 "mark":{"type":"text","text":"SILVER (WEEKLY)","font":"Liberation Sans","fontSize":50,"fontWeight":"bold","color":"#0000ff","align":"center","baseline":"alphabetic"}},
{"data":{"values":[{"t":"2022-03-02","v":46.1}]},
 "mark":{"type":"text","text":"WIDERSTAND BEI 48 $","font":"Liberation Sans","fontSize":23,"fontWeight":"bold","color":"#ff0000","align":"left","baseline":"alphabetic"}},
{"data":{"values":[{"t":"2022-03-04","v":35.48}]},
 "mark":{"type":"text","text":"WIDERSTAND BEI 35 $","font":"Liberation Sans","fontSize":23,"fontWeight":"bold","color":"#ff0000","align":"left","baseline":"alphabetic"}},
{"data":{"values":[{"t":"2021-06-07","v":28.74}]},
 "mark":{"type":"text","text":"UNTERTSTÜTZUNG BEI 28$ - 30$","font":"Liberation Sans","fontSize":19.5,"fontWeight":"bold","color":"#008000","align":"left","baseline":"alphabetic"}},
{"data":{"values":[{"t":"2020-10-24","v":21.34}]},
 "mark":{"type":"text","text":"UNTERSTÜTZUNG BEI 22 $","font":"Liberation Sans","fontSize":13,"color":"#2020ff","align":"left","baseline":"alphabetic"}},
{"data":{"values":[{"t":"2010-01-21","v":10.685}]},
 "mark":{"type":"text","text":"- SMA(40):31,044","font":"Liberation Sans","fontSize":12,"color":"#ff1493","align":"left","baseline":"alphabetic"}},
{"data":{"values":[{"t":"2025-03-25","v":10.70}]},
 "mark":{"type":"text","text":"Kurs:33,410 ","font":"Liberation Sans","fontSize":12,"color":"#000000","align":"right","baseline":"alphabetic"}},
{"data":{"values":[{"t":"2026-02-13","v":10.70}]},
 "mark":{"type":"text","text":"(-0,955 / -2,779%)","font":"Liberation Sans","fontSize":12,"fontWeight":"bold","color":"#000000","align":"right","baseline":"alphabetic"}},
{"data":{"values":[{"t":"2009-09-08","v":10.46}]},
 "mark":{"type":"text","text":"LOG","font":"Liberation Sans","fontSize":13,"color":"#000000","align":"center","baseline":"middle","clip":false}},
{"data":{"values":[{"t":"2026-04-19","t2":"2026-09-15","v":33.71,"v2":32.95}]},
 "mark":{"type":"rect","fill":"#0000ff","clip":false},"encoding":{"x2":{"field":"t2"},"y2":{"field":"v2"}}},
{"data":{"values":[{"t":"2026-04-19","t2":"2026-09-15","v":31.34,"v2":30.64}]},
 "mark":{"type":"rect","fill":"#ff1493","clip":false},"encoding":{"x2":{"field":"t2"},"y2":{"field":"v2"}}},
{"data":{"values":[{"t":"2026-04-23","v":33.33}]},
 "mark":{"type":"text","text":"33,410","font":"Liberation Sans","fontSize":12.5,"fontWeight":"bold","color":"#ffffff","align":"left","baseline":"middle","clip":false}},
{"data":{"values":[{"t":"2026-04-23","v":30.99}]},
 "mark":{"type":"text","text":"31,044","font":"Liberation Sans","fontSize":12.5,"fontWeight":"bold","color":"#ffffff","align":"left","baseline":"middle","clip":false}}
]
}
